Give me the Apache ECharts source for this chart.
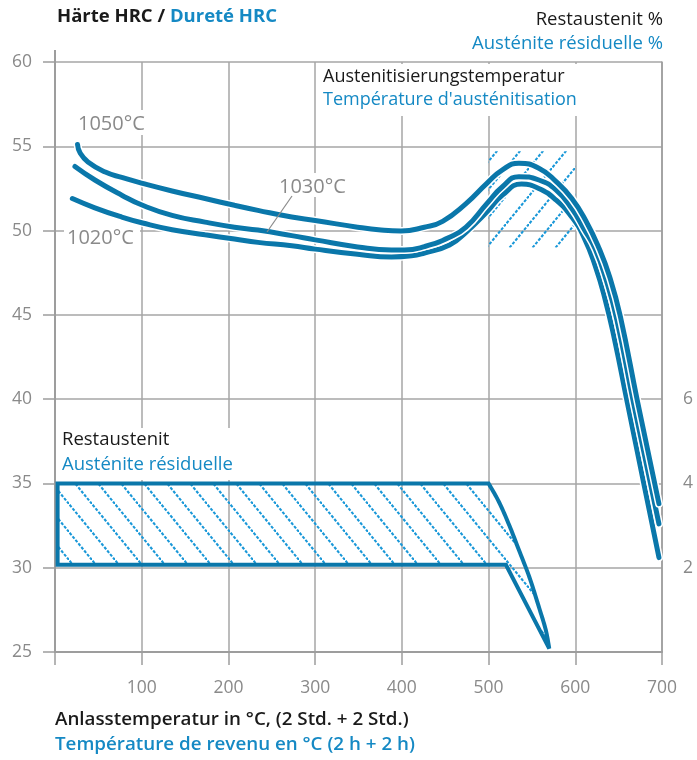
<!DOCTYPE html>
<html>
<head>
<meta charset="utf-8">
<script src="https://cdn.jsdelivr.net/npm/echarts@6/dist/echarts.min.js"></script>
<style>
html,body{margin:0;padding:0;background:#fff;}
#chart{width:697px;height:760px;}
</style>
</head>
<body>
<div id="chart"></div>
<script>
// ---------- data ----------
const tempTicks = [100, 200, 300, 400, 500, 600, 700];
const hrcTicks = [25, 30, 35, 40, 45, 50, 55, 60];
const raTicks = [2, 4, 6];

const temp1050 = [26,29,38,58,77,101,135,173,207,234,273,300,349,376,399,426,447,474,498,516,535,558,578,596,612,627,640,652,672,696.5];
const hrc1050  = [55.1,54.6,54.07,53.47,53.15,52.8,52.35,51.9,51.5,51.2,50.8,50.6,50.2,50.03,49.97,50.2,50.55,51.6,52.8,53.6,54.0,53.7,52.9,51.9,50.6,49.0,47.2,44.9,39.8,33.8];

const temp1030 = [23,46,77,101,135,173,207,234,273,300,349,388,403,426,455,474,498,516,535,558,578,596,610,623,636,648,667.5,696.5];
const hrc1030  = [53.8,53.0,52.1,51.5,50.9,50.5,50.2,50.03,49.7,49.45,49.03,48.85,48.85,49.05,49.6,50.2,51.6,52.6,53.2,53.0,52.4,51.3,50.1,48.9,47.0,44.7,39.7,32.6];

const temp1020 = [20,46,77,101,135,173,207,234,273,300,349,388,411,426,455,474,498,516,538,558,578,596,610,623,634,645,660,679,696.5];
const hrc1020  = [51.9,51.35,50.8,50.45,50.05,49.75,49.5,49.3,49.1,48.9,48.6,48.43,48.5,48.67,49.14,49.9,51.1,52.1,52.76,52.5,51.8,50.8,49.6,47.9,46.0,43.6,39.8,35.0,30.6];

// Restaustenit (retained austenite, % right axis) outline
const raTemp = [3, 500, 512, 524, 535, 547, 558, 566, 570, 520, 3];
const raPct  = [4.0, 4.0, 3.56, 3.0, 2.42, 1.78, 1.07, 0.52, 0.08, 2.07, 2.07];

// hatched austenitising box
const boxTemp = [500, 600];
const boxHrc  = [49, 54.7];

// ---------- styles ----------
const FONT = '"Open Sans", "Noto Sans", sans-serif';
const LINE = '#0a77aa';
const HATCH = '#1a98d8';
const BLUE = '#1589c4';
const BLACK = '#1a1a1a';
const GRAYTXT = '#8a8a8a';
const GRID = '#a6a6a6';
const AXIS = '#9d9d9d';

function pairs(xs, ys) { return xs.map((x, i) => [x, ys[i]]); }

function makeHatch(dir) {
  const w = 23, h = 28;
  const c = document.createElement('canvas');
  c.width = w; c.height = h;
  const g = c.getContext('2d');
  g.strokeStyle = HATCH; g.lineWidth = 2.1;
  g.setLineDash([3, 1.6]);
  g.beginPath();
  if (dir > 0) { g.moveTo(-w * 0.1, -h * 0.1); g.lineTo(w * 1.1, h * 1.1); }
  else { g.moveTo(-w * 0.1, h * 1.1); g.lineTo(w * 1.1, -h * 0.1); }
  g.stroke();
  return c;
}
const hatchDown = makeHatch(1);
const hatchUp = makeHatch(-1);

function catmull(pts, n) {
  const out = [];
  for (let i = 0; i < pts.length - 1; i++) {
    const p0 = pts[Math.max(0, i - 1)], p1 = pts[i], p2 = pts[i + 1], p3 = pts[Math.min(pts.length - 1, i + 2)];
    for (let k = 0; k < n; k++) {
      const t = k / n, t2 = t * t, t3 = t2 * t;
      const f = (a, b, c, d) => 0.5 * (2 * b + (-a + c) * t + (2 * a - 5 * b + 4 * c - d) * t2 + (-a + 3 * b - 3 * c + d) * t3);
      out.push([f(p0[0], p1[0], p2[0], p3[0]), f(p0[1], p1[1], p2[1], p3[1])]);
    }
  }
  out.push(pts[pts.length - 1]);
  return out;
}

function curveSeries(name, xs, ys) {
  const d = pairs(xs, ys);
  return [
    { type: 'line', name: name + '-halo', data: d, symbol: 'none', smooth: 0.5, silent: true, z: 3,
      lineStyle: { color: '#ffffff', width: 8, cap: 'round' } },
    { type: 'line', name: name, data: d, symbol: 'none', smooth: 0.5, silent: true, z: 3,
      lineStyle: { color: LINE, width: 5, cap: 'round' } }
  ];
}

const chart = echarts.init(document.getElementById('chart'), null, { renderer: 'canvas' });

function txt(x, y, text, fill, size, weight, align) {
  return { type: 'text', z: 5, style: {
    x: x, y: y, text: text, fill: fill,
    font: (weight || 'normal') + ' ' + size + 'px ' + FONT,
    align: align || 'left', verticalAlign: 'middle',
    textAlign: align || 'left', textVerticalAlign: 'middle'
  } };
}
function whiteRect(x, y, w, h) {
  return { type: 'rect', z: 1, shape: { x: x, y: y, width: w, height: h }, style: { fill: '#ffffff' }, silent: true };
}

const option = {
  animation: false,
  backgroundColor: '#ffffff',
  grid: { left: 55, right: 35, top: 62, bottom: 108, containLabel: false },
  xAxis: {
    type: 'value', min: 0, max: 700, interval: 100,
    axisLine: { show: true, onZero: false, lineStyle: { color: AXIS, width: 2 } },
    axisTick: { show: true, length: 13, lineStyle: { color: AXIS, width: 1.5 } },
    axisLabel: { color: GRAYTXT, fontSize: 17.5, fontFamily: FONT, margin: 27,
      formatter: v => tempTicks.includes(v) ? String(v) : '' },
    splitLine: { show: true, lineStyle: { color: GRID, width: 1.5 } }
  },
  yAxis: [
    {
      type: 'value', min: 25, max: 60, interval: 5,
      axisLine: { show: true, lineStyle: { color: AXIS, width: 2 } },
      axisTick: { show: true, length: 12, lineStyle: { color: AXIS, width: 1.5 } },
      axisLabel: { color: GRAYTXT, fontSize: 17.5, fontFamily: FONT, margin: 23,
        formatter: v => hrcTicks.includes(v) ? String(v) : '' },
      splitLine: { show: true, lineStyle: { color: GRID, width: 1.5 } }
    },
    {
      type: 'value', min: 0, max: 14, interval: 2, position: 'right',
      axisLine: { show: true, lineStyle: { color: AXIS, width: 1.5 } },
      axisTick: { show: false },
      axisLabel: { color: GRAYTXT, fontSize: 17.5, fontFamily: FONT, margin: 21,
        formatter: v => raTicks.includes(v) ? String(v) : '' },
      splitLine: { show: false }
    }
  ],
  series: [
    {
      type: 'custom', name: 'box', silent: true, z: 2,
      data: [[boxTemp[0], boxHrc[1], boxTemp[1], boxHrc[0]]],
      renderItem: (params, api) => {
        const p1 = api.coord([api.value(0), api.value(1)]);
        const p2 = api.coord([api.value(2), api.value(3)]);
        return { type: 'rect', shape: { x: p1[0], y: p1[1], width: p2[0] - p1[0], height: p2[1] - p1[1] },
          style: { fill: { image: hatchUp, repeat: 'repeat' }, stroke: null } };
      }
    },
    {
      type: 'custom', name: 'Restaustenit', silent: true, z: 2, yAxisIndex: 1,
      data: [[0]],
      renderItem: (params, api) => {
        const px = raTemp.map((t, i) => api.coord([t, raPct[i]]));
        const curve = catmull(px.slice(1, 9), 10);
        const pts = [px[0]].concat(curve, [px[9], px[10]]);
        return { type: 'polygon', shape: { points: pts },
          style: { fill: { image: hatchDown, repeat: 'repeat' }, stroke: LINE, lineWidth: 4, lineJoin: 'miter', miterLimit: 4 } };
      }
    },
    ...curveSeries('1020', temp1020, hrc1020),
    ...curveSeries('1030', temp1030, hrc1030),
    ...curveSeries('1050', temp1050, hrc1050)
  ],
  graphic: [
    { type: 'line', z: 1, shape: { x1: 55, y1: 50, x2: 55, y2: 63 }, style: { stroke: AXIS, lineWidth: 2 } },
    whiteRect(319, 64, 342, 52),
    whiteRect(76, 110, 72, 25),
    whiteRect(64, 226, 76, 24),
    whiteRect(278, 173, 70, 24),
    whiteRect(58, 428, 182, 52),
    { type: 'line', z: 5, shape: { x1: 292, y1: 196, x2: 267, y2: 232 }, style: { stroke: '#8a8a8a', lineWidth: 1.2 } },
    { type: 'text', z: 5, style: {
      x: 57, y: 17, verticalAlign: 'middle', textVerticalAlign: 'middle',
      text: '{a|Härte HRC / }{b|Dureté HRC}',
      rich: {
        a: { fill: BLACK, color: BLACK, fontSize: 18.5, fontWeight: 'bold', fontFamily: FONT },
        b: { fill: BLUE, color: BLUE, fontSize: 18.5, fontWeight: 'bold', fontFamily: FONT }
      }
    } },
    txt(663, 20, 'Restaustenit %', BLACK, 18.5, 'normal', 'right'),
    txt(663, 44, 'Austénite résiduelle %', BLUE, 18.5, 'normal', 'right'),
    txt(323, 77, 'Austenitisierungstemperatur', BLACK, 18),
    txt(323, 100, "Température d'austénitisation", BLUE, 18),
    txt(78, 124, '1050°C', GRAYTXT, 20),
    txt(279, 187, '1030°C', GRAYTXT, 20),
    txt(67, 238, '1020°C', GRAYTXT, 20),
    txt(62, 440, 'Restaustenit', BLACK, 18.5),
    txt(62, 465, 'Austénite résiduelle', BLUE, 18.5),
    txt(55, 720, 'Anlasstemperatur in °C, (2 Std. + 2 Std.)', BLACK, 18.8, '600'),
    txt(55, 745, 'Température de revenu en °C (2 h + 2 h)', BLUE, 18.8, '600')
  ]
};
chart.setOption(option);
</script>
</body>
</html>
